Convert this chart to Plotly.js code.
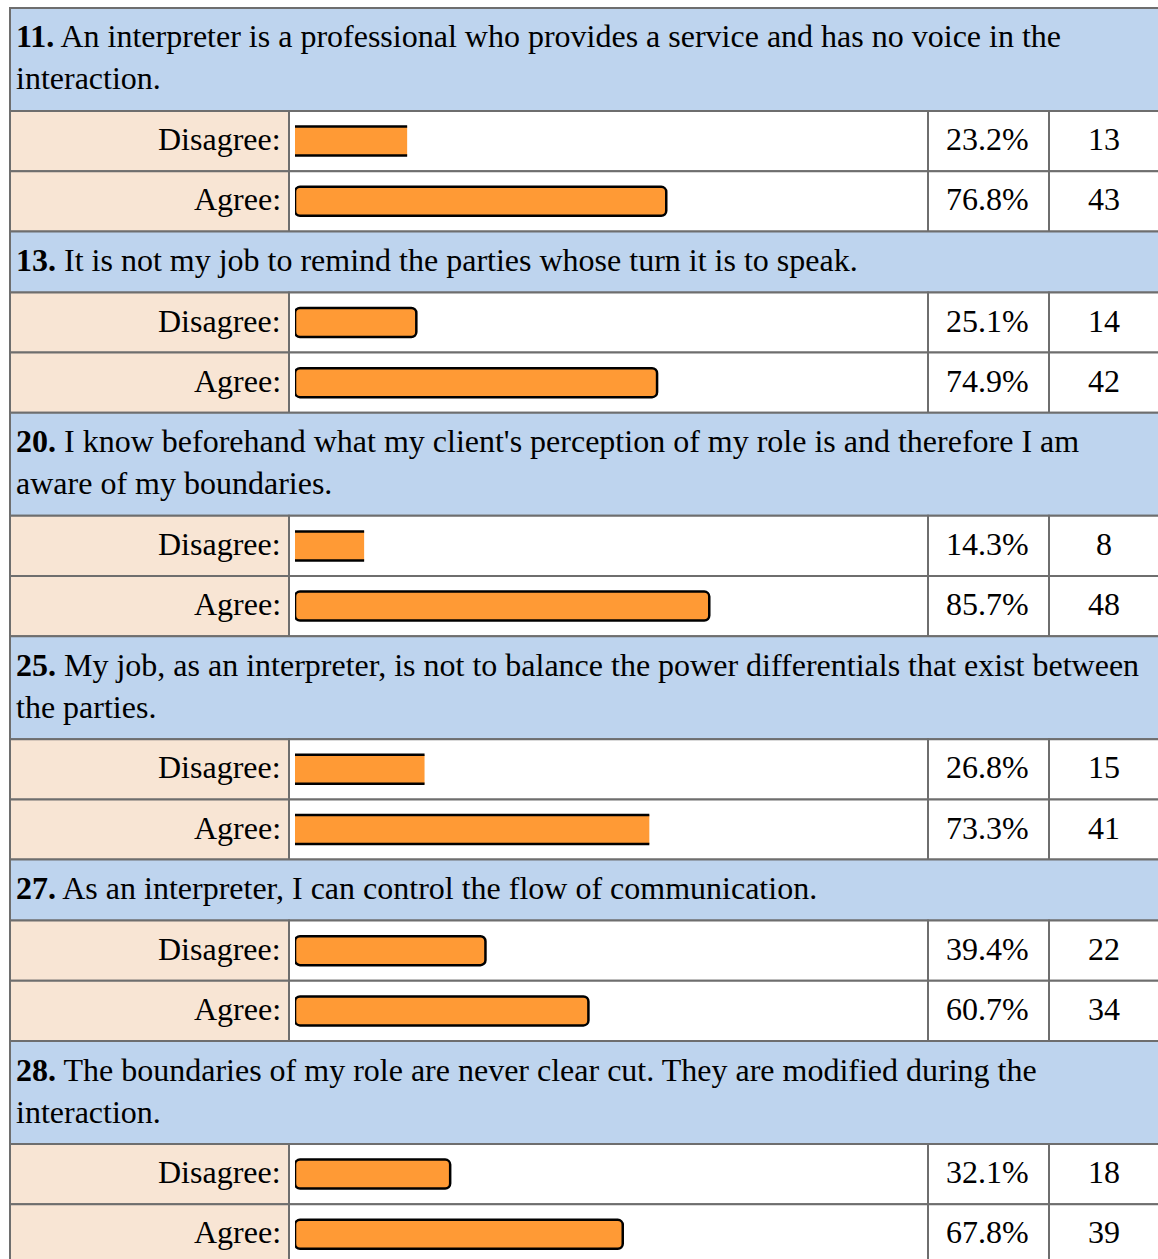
<!DOCTYPE html>
<html>
<head>
<meta charset="utf-8">
<script src="https://cdn.plot.ly/plotly-3.0.1.min.js"></script>
<style>html,body{margin:0;padding:0;background:#fff;}#chart{width:1158px;height:1259px;}</style>
</head>
<body>
<div id="chart"></div>
<script>
// ---- data ----
const questionNumbers = ["11.", "13.", "20.", "25.", "27.", "28."];
const questionTexts = [
  "An interpreter is a professional who provides a service and has no voice in the\ninteraction.",
  "It is not my job to remind the parties whose turn it is to speak.",
  "I know beforehand what my client's perception of my role is and therefore I am\naware of my boundaries.",
  "My job, as an interpreter, is not to balance the power differentials that exist between\nthe parties.",
  "As an interpreter, I can control the flow of communication.",
  "The boundaries of my role are never clear cut. They are modified during the\ninteraction."
];
const answerLabels = ["Disagree:", "Agree:"];
const disagreePct = [23.2, 25.1, 14.3, 26.8, 39.4, 32.1];
const agreePct   = [76.8, 74.9, 85.7, 73.3, 60.7, 67.8];
const disagreeN  = [13, 14, 8, 15, 22, 18];
const agreeN     = [43, 42, 48, 41, 34, 39];

// ---- styling / layout ----
const W = 1158, H = 1259;
const FONT = '"Liberation Serif", "Times New Roman", Times, serif';
const FS = 32;
const HEADER_BG = '#BED4EE', LABEL_BG = '#F8E5D4', BORDER = '#6E6E6E';
const BAR_FILL = '#FF9A35';
const flatBarStyle = [[true, false], [false, false], [true, false], [true, true], [false, false], [false, false]];
const colX = [10, 289, 928, 1049, 1160];
const barX0 = 295, barPxPerPct = 4.834;
const top0 = 8, tallHeader = 103, shortHeader = 61, rowH = 60.2;

const px = x => x / W;
const py = y => 1 - y / H;

const shapes = [], annotations = [];
function rect(x0, y0, x1, y1, fill) {
  shapes.push({type:'rect', xref:'paper', yref:'paper', x0:px(x0), x1:px(x1), y0:py(y1), y1:py(y0),
    fillcolor:fill, line:{color:BORDER, width:2}, layer:'below'});
}

const rounded = {y:[], x:[]}, flat = {y:[], x:[]};
let y = top0;
questionNumbers.forEach((num, i) => {
  const text = questionTexts[i];
  const hh = text.includes('\n') ? tallHeader : shortHeader;
  rect(colX[0], y, colX[4], y + hh, HEADER_BG);
  annotations.push({xref:'paper', yref:'paper', x:px(14), y:py(y + hh/2 - 2), xanchor:'left', yanchor:'middle',
    align:'left', showarrow:false, text:'<b>' + num + '</b> ' + text.replace('\n', '<br>'),
    font:{family:FONT, size:FS, color:'#000'}});
  y += hh;
  const pcts = [disagreePct[i], agreePct[i]];
  const ns = [disagreeN[i], agreeN[i]];
  for (let r = 0; r < 2; r++) {
    const y0 = y, y1 = y + rowH, yc = (y0 + y1) / 2;
    const ty = yc - 2;
    rect(colX[0], y0, colX[1], y1, LABEL_BG);
    rect(colX[1], y0, colX[2], y1, '#FFFFFF');
    rect(colX[2], y0, colX[3], y1, '#FFFFFF');
    rect(colX[3], y0, colX[4], y1, '#FFFFFF');
    annotations.push({xref:'paper', yref:'paper', x:px(283), y:py(ty), xanchor:'right', yanchor:'middle',
      showarrow:false, text:answerLabels[r], font:{family:FONT, size:FS, color:'#000'}});
    annotations.push({xref:'paper', yref:'paper', x:px((colX[2]+colX[3])/2 - 1), y:py(ty), xanchor:'center', yanchor:'middle',
      showarrow:false, text:pcts[r].toFixed(1) + '%', font:{family:FONT, size:FS, color:'#000'}});
    annotations.push({xref:'paper', yref:'paper', x:px((colX[3]+colX[4]-2)/2), y:py(ty), xanchor:'center', yanchor:'middle',
      showarrow:false, text:String(ns[r]), font:{family:FONT, size:FS, color:'#000'}});
    const tgt = flatBarStyle[i][r] ? flat : rounded;
    tgt.y.push(yc); tgt.x.push(pcts[r]);
    y = y1;
  }
});

const xMax = (colX[2] - barX0) / barPxPerPct;
const traces = [
  {type:'bar', orientation:'h', x:rounded.x, y:rounded.y, width:29, base:0,
   marker:{color:BAR_FILL, line:{color:'#000', width:2.5}, cornerradius:5}, hoverinfo:'skip'},
  {type:'bar', orientation:'h', x:flat.x, y:flat.y, width:29, base:0,
   marker:{color:BAR_FILL, line:{color:'#000', width:0}}, hoverinfo:'skip'}
];
// black top/bottom edges for the flat bars
traces.push({type:'bar', orientation:'h', x:flat.x, y:flat.y.map(v => v - 14.5), width:2.5, base:0,
   marker:{color:'#000'}, hoverinfo:'skip'});
traces.push({type:'bar', orientation:'h', x:flat.x, y:flat.y.map(v => v + 14.5), width:2.5, base:0,
   marker:{color:'#000'}, hoverinfo:'skip'});

const layout = {
  width: W, height: H, margin:{l:0, r:0, t:0, b:0},
  paper_bgcolor:'#FFFFFF', plot_bgcolor:'rgba(0,0,0,0)',
  showlegend:false, barmode:'overlay',
  xaxis:{domain:[px(barX0), px(colX[2])], range:[0, xMax], visible:false, fixedrange:true},
  yaxis:{domain:[0, 1], range:[H, 0], visible:false, fixedrange:true},
  shapes, annotations
};
Plotly.newPlot('chart', traces, layout, {displayModeBar:false, staticPlot:true});
</script>
</body>
</html>
